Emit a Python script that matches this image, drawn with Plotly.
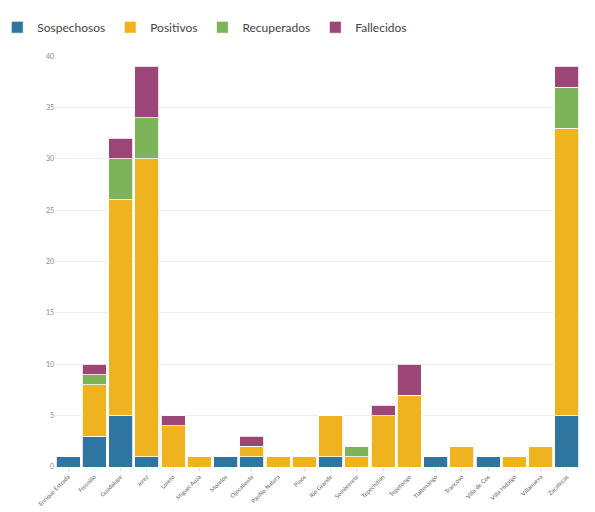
import plotly.graph_objects as go

# municipios y casos por estado
municipios = ['Enrique Estrada', 'Fresnillo', 'Guadalupe', 'Jerez', 'Loreto', 'Miguel Auza',
              'Morelos', 'Ojocaliente', 'Pánfilo Natera', 'Pinos', 'Río Grande', 'Sombrerete',
              'Tepechitlán', 'Tepetongo', 'Tlaltenango', 'Trancoso', 'Villa de Cos',
              'Villa Hidalgo', 'Villanueva', 'Zacatecas']
sospechosos = [1, 3, 5, 1, 0, 0, 1, 1, 0, 0, 1, 0, 0, 0, 1, 0, 1, 0, 0, 5]
positivos = [0, 5, 21, 29, 4, 1, 0, 1, 1, 1, 4, 1, 5, 7, 0, 2, 0, 1, 2, 28]
recuperados = [0, 1, 4, 4, 0, 0, 0, 0, 0, 0, 0, 1, 0, 0, 0, 0, 0, 0, 0, 4]
fallecidos = [0, 1, 2, 5, 1, 0, 0, 1, 0, 0, 0, 0, 1, 3, 0, 0, 0, 0, 0, 2]

y_ticks = [0, 5, 10, 15, 20, 25, 30, 35, 40]

series = [
    ('Sospechosos', sospechosos, '#2e75a0'),
    ('Positivos', positivos, '#efb320'),
    ('Recuperados', recuperados, '#7db45a'),
    ('Fallecidos', fallecidos, '#9c4678'),
]

fig = go.Figure()
for name, vals, col in series:
    fig.add_trace(go.Bar(x=municipios, y=vals, name=name, marker_color=col,
                         marker_line=dict(color='rgba(255,255,255,0.8)', width=1)))

# la pagina tiene 8px de margen, por eso 587x504
fig.update_layout(
    barmode='stack', bargap=0.08,
    width=587, height=504,
    margin=dict(l=47, r=15, t=48, b=45, autoexpand=False),
    plot_bgcolor='white', paper_bgcolor='white',
    font=dict(family='Lato', color='#555'),
    legend=dict(orientation='h', x=-0.11, y=1.07, xanchor='left', yanchor='middle',
                font=dict(size=12, color='#444'), itemwidth=30, traceorder='normal'),
    xaxis=dict(tickangle=-45, tickfont=dict(size=6, color='#666'), showgrid=False,
               ticks='outside', ticklen=3, tickcolor='#ddd', showline=False),
    yaxis=dict(range=[0, 40.02], tickvals=y_ticks, tickfont=dict(size=7, color='#888'),
               gridcolor='#eee', zeroline=False, showline=False),
)

fig.write_html("out.html")
